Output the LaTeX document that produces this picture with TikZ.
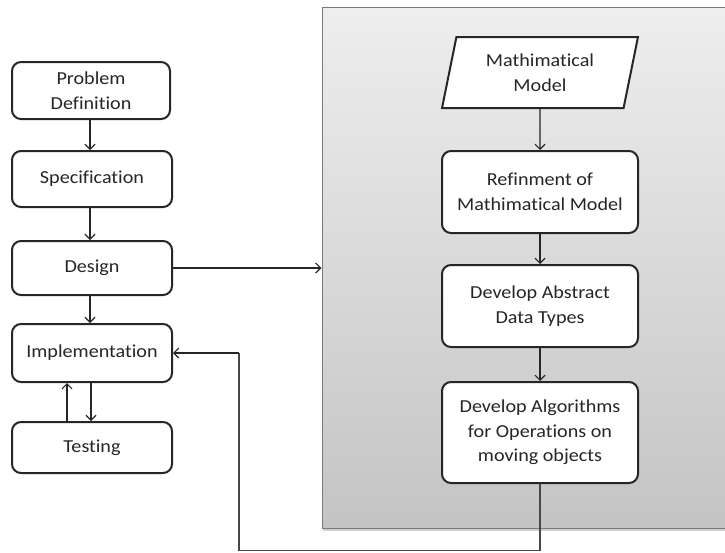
\documentclass[tikz,border=0pt]{standalone}
\usepackage{fontspec}
\setmainfont{Carlito}[FakeStretch=1.1, Ligatures=NoCommon]
\usetikzlibrary{arrows.meta,shapes.geometric}
\definecolor{ink}{HTML}{262626}
\definecolor{paneltop}{HTML}{EEEEEE}
\definecolor{panelbot}{HTML}{C4C4C4}
\definecolor{panelrule}{HTML}{7A7A7A}
\tikzset{
  flowbox/.style={draw=ink, line width=2pt, rounded corners=9pt, fill=white,
    align=center, text=ink, font=\fontsize{18.3}{24.5}\selectfont, inner sep=0pt},
  inputbox/.style={draw=ink, line width=2pt, fill=white, trapezium,
    trapezium left angle=76, trapezium right angle=104, trapezium stretches=true,
    align=center, text=ink, font=\fontsize{18.3}{24.5}\selectfont, inner sep=0pt},
  link/.style={draw=ink, line width=1.2pt, -{Straight Barb[length=5pt,width=10pt,line width=1.2pt]}},
  wire/.style={draw=ink!85, line width=1.2pt}
}
\begin{document}
\begin{tikzpicture}[x=1pt,y=-1pt]
\useasboundingbox (0,0) rectangle (725,552);
\fill[white] (0,0) rectangle (725,552);

% shaded panel holding the design steps
\fill[black!18] (323,9) rectangle (728,531);
\node[draw=panelrule, line width=1.4pt, top color=paneltop, bottom color=panelbot,
  minimum width=406pt, minimum height=521pt, inner sep=0pt, anchor=north west]
  (panel) at (321.5,6.5) {};

% left column: development phases
\node[flowbox, minimum width=158pt, minimum height=57pt] (pd) at (91,90.5) {Problem\\Definition};
\node[flowbox, minimum width=160pt, minimum height=56pt] (spec) at (92,179) {Specification};
\node[flowbox, minimum width=160pt, minimum height=54pt] (design) at (92,268) {Design};
\node[flowbox, minimum width=160pt, minimum height=58pt] (impl) at (92,353) {Implementation};
\node[flowbox, minimum width=160pt, minimum height=51pt] (test) at (92,447.5) {Testing};

% right column: design refinement
\node[inputbox, minimum width=196pt, minimum height=71pt] (mm) at (540,72.5) {Mathimatical\\Model};
\node[flowbox, minimum width=196pt, minimum height=82pt] (ref) at (540,192) {Refinment of\\Mathimatical Model};
\node[flowbox, minimum width=196pt, minimum height=82pt] (adt) at (540,306) {Develop Abstract\\Data Types};
\node[flowbox, minimum width=196pt, minimum height=101pt] (alg) at (540,432.5) {Develop Algorithms\\for Operations on\\moving objects};

% connectors
\draw[link] ([xshift=-1pt]pd.south) -- ([xshift=-2pt]spec.north);
\draw[link] ([xshift=-2pt]spec.south) -- ([xshift=-2pt]design.north);
\draw[link] ([xshift=-2pt]design.south) -- ([xshift=-2pt]impl.north);
\draw[link] ([xshift=-1pt]impl.south) -- ([xshift=-1pt]test.north);
\draw[link] ([xshift=-25pt]test.north) -- ([xshift=-25pt]impl.south);
\draw[link] (design.east) -- (panel.west |- design.east);

\draw[link] (mm) -- (ref);
\draw[link] (ref) -- (adt);
\draw[link] (adt) -- (alg);

\coordinate (turnA) at (540,550.5);
\coordinate (turnB) at (239,550.5);
\coordinate (turnC) at (239,353);
\draw[wire] (alg.south) -- (turnA) -- (turnB) -- (turnC);
\draw[link] (turnC) -- (impl.east);
\end{tikzpicture}
\end{document}
